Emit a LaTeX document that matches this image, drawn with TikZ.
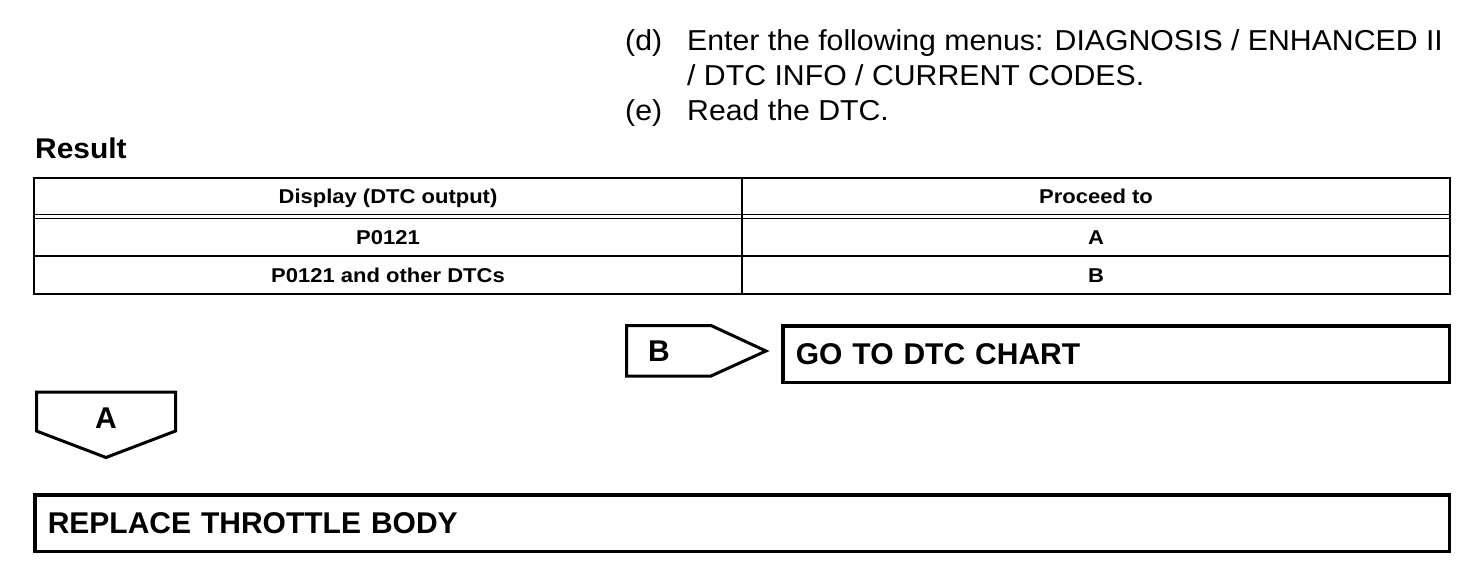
\documentclass[tikz,border=0pt]{standalone}
\usepackage{fontspec}
\setmainfont{Liberation Sans}
\newfontfamily\stepfont[FakeStretch=1.05]{Liberation Sans}
\newfontfamily\tabfont[FakeStretch=1.1]{Liberation Sans}
\usetikzlibrary{positioning}

\tikzset{
  plain/.style={inner sep=0pt, anchor=base west, font=\stepfont\fontsize{28.8}{34}\selectfont},
  cell/.style={inner sep=0pt, anchor=base, font=\tabfont\bfseries\fontsize{20}{24}\selectfont},
  actbox/.style={draw, line width=3.5pt, anchor=north west, minimum height=56.5pt,
    inner xsep=13pt, align=left, font=\bfseries\fontsize{30}{36}\selectfont},
  tag/.style={line width=3pt, line join=miter},
  taglabel/.style={inner sep=0pt, font=\bfseries\fontsize{30}{36}\selectfont}
}

\begin{document}
\begin{tikzpicture}[x=1pt, y=-1pt]
  \useasboundingbox (0,0) rectangle (1472,578);
  % steps
  \node[plain] (stepd) at (625,51) {(d)};
  \node[plain] (textd) at (687,51) {Enter the following menus: DIAGNOSIS / ENHANCED II};
  \node[plain] (textd2) at (687,85.5) {/ DTC INFO / CURRENT CODES.};
  \node[plain] (stepe) at (625,120) {(e)};
  \node[plain] (texte) at (687,120) {Read the DTC.};
  \node[plain, font=\stepfont\bfseries\fontsize{28.5}{34}\selectfont] (result) at (35,158) {Result};
  % table
  \draw[line width=2pt] (34,178) rectangle (1450,294);
  \draw[line width=1.5pt] (34,214.5) -- (1450,214.5) (34,218.5) -- (1450,218.5);
  \draw[line width=2pt] (34,256) -- (1450,256);
  \draw[line width=2pt] (742,178) -- (742,294);
  \foreach \y/\dtc/\res [count=\i] in {203/Display (DTC output)/Proceed to,
      244/P0121/A, 282/P0121 and other DTCs/B} {
    \node[cell] (disp\i) at (388,\y) {\dtc};
    \node[cell] (goto\i) at (1096,\y) {\res};
  }
  % B branch
  \draw[tag] (626.5,325.5) -- (711,325.5) -- (766,351) -- (711,376) -- (626.5,376) -- cycle;
  \node[taglabel] (tagb) at (659,351) {B};
  \node[actbox, minimum width=666.5pt, text width=640.5pt] (chart) at (781,324) {GO TO DTC CHART};
  % A branch
  \draw[tag] (36.5,392) -- (175.5,392) -- (175.5,431) -- (106,457.5) -- (36.5,431) -- cycle;
  \node[taglabel] (taga) at (106,418) {A};
  \node[actbox, minimum width=1414.5pt, text width=1388.5pt] (replace) at (33,493) {REPLACE THROTTLE BODY};
\end{tikzpicture}
\end{document}
